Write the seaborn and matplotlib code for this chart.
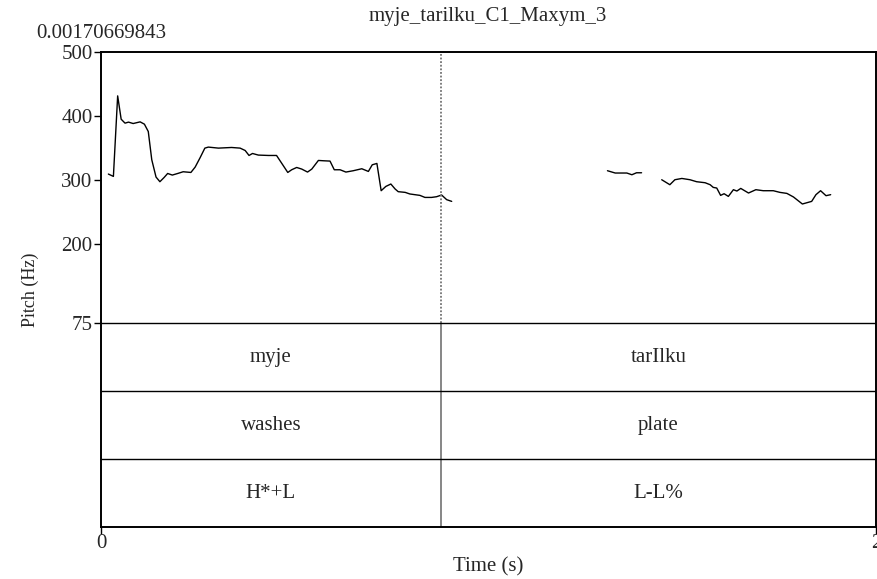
import numpy as np
import pandas as pd
import seaborn as sns
import matplotlib.pyplot as plt

# texts
title = "myje_tarilku_C1_Maxym_3"
start_label = "0.00170669843"
words = ["myje", "tarIlku"]
glosses = ["washes", "plate"]
tones = ["H*+L", "L-L%"]
boundary = 0.877
t_end = 2.0
y_ticks = [500, 400, 300, 200, 75]

# pitch contour (s, Hz)
seg1_t = [0.019, 0.032, 0.043, 0.052, 0.062, 0.071, 0.083, 0.101, 0.112, 0.122,
          0.131, 0.142, 0.152, 0.163, 0.172, 0.184, 0.198, 0.212, 0.232, 0.243,
          0.256, 0.268, 0.277, 0.303, 0.337, 0.359, 0.372, 0.382, 0.391, 0.406,
          0.432, 0.453, 0.466, 0.482, 0.492, 0.505, 0.518, 0.533, 0.544, 0.561,
          0.574, 0.591, 0.602, 0.617, 0.632, 0.651, 0.673, 0.690, 0.700, 0.712,
          0.723, 0.735, 0.748, 0.759, 0.767, 0.785, 0.797, 0.810, 0.823, 0.836,
          0.853, 0.866, 0.879, 0.892, 0.905]
seg1_f = [308.9, 305.2, 431.3, 394.8, 388.6, 390.2, 388.0, 390.6, 387.0, 375.5,
          331.3, 304.2, 296.9, 303.6, 309.8, 307.3, 309.8, 312.5, 311.4, 319.8,
          334.8, 349.5, 351.1, 349.5, 350.5, 349.5, 345.8, 338.0, 341.1, 338.6,
          338.0, 338.0, 326.1, 311.4, 315.6, 319.2, 316.7, 312.0, 316.7, 330.2,
          329.7, 329.2, 315.6, 315.6, 312.0, 314.1, 317.2, 313.0, 323.4, 325.5,
          282.8, 289.5, 293.3, 285.5, 281.3, 280.2, 277.7, 276.6, 275.5, 272.3,
          272.3, 273.4, 276.1, 268.8, 266.1]

seg2_t = [1.307, 1.327, 1.357, 1.370, 1.382, 1.395]
seg2_f = [314.1, 310.5, 310.5, 307.8, 310.9, 310.9]

seg3_t = [1.447, 1.468, 1.481, 1.499, 1.520, 1.537, 1.559, 1.572, 1.580, 1.589,
          1.599, 1.608, 1.619, 1.632, 1.641, 1.651, 1.671, 1.690, 1.709, 1.735,
          1.752, 1.770, 1.787, 1.810, 1.834, 1.845, 1.857, 1.871, 1.883]
seg3_f = [300.0, 292.2, 300.0, 302.0, 300.0, 296.9, 295.3, 292.2, 288.0, 287.0,
          275.5, 278.1, 273.9, 284.4, 282.3, 286.4, 279.2, 284.4, 282.8, 282.8,
          280.2, 278.6, 273.0, 262.0, 266.1, 276.6, 282.8, 275.0, 276.6]

pitch = pd.concat([
    pd.DataFrame({"time": seg1_t, "pitch": seg1_f, "seg": 1}),
    pd.DataFrame({"time": seg2_t, "pitch": seg2_f, "seg": 2}),
    pd.DataFrame({"time": seg3_t, "pitch": seg3_f, "seg": 3}),
])

sns.set_style("ticks")
plt.rcParams["font.family"] = ["Liberation Serif", "DejaVu Serif"]

fig = plt.figure(figsize=(8.78, 5.79), dpi=100)
ax = fig.add_axes([101 / 878, 52 / 579, 775 / 878, 475 / 579])

# tiers live below 75 Hz, each 106.25 "Hz" tall (68 px)
tier_h = 106.25
y_bot = 75 - 3 * tier_h

sns.lineplot(data=pitch, x="time", y="pitch", units="seg", estimator=None,
             color="black", lw=1, ax=ax, legend=False)

ax.vlines(boundary, 75, 500, colors="0.45", linestyles=(0, (1, 1)), lw=1.3)
ax.vlines(boundary, y_bot, 75, colors="0.4", lw=1.1)
ax.hlines([75, 75 - tier_h, 75 - 2 * tier_h], 0, t_end, colors="black", lw=1)

mids = [boundary / 2, (boundary + t_end) / 2]
for k, tier in enumerate([words, glosses, tones]):
    yc = 75 - tier_h * (k + 0.5)
    for xm, lab in zip(mids, tier):
        ax.text(xm, yc, lab, ha="center", va="center", fontsize=15)

ax.set_xlim(0, t_end)
ax.set_ylim(y_bot, 500)
ax.set_yticks(y_ticks)
ax.set_yticklabels([str(v) for v in y_ticks], fontsize=15)
ax.set_xticks([0, t_end])
ax.set_xticklabels(["0", "2"], fontsize=15)
ax.tick_params(direction="out", length=5, width=1, color="black", pad=1)
ax.tick_params(axis="x", pad=0)
ax.set_xlabel("Time (s)", fontsize=15, labelpad=3)
ax.set_ylabel("Pitch (Hz)", fontsize=13, labelpad=16)
for s in ax.spines.values():
    s.set_color("black")
    s.set_linewidth(1.4)

fig.text(488 / 878, 1 - 16 / 579, title, ha="center", va="center", fontsize=15)
fig.text(101 / 878, 1 - 34 / 579, start_label, ha="center", va="center", fontsize=15)

fig.savefig("out.png", dpi=100)
